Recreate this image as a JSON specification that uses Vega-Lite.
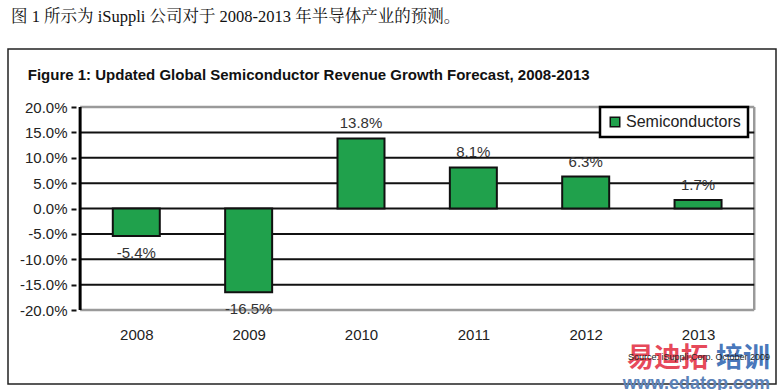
{
  "$schema": "https://vega.github.io/schema/vega-lite/v6.json",
  "width": 768,
  "height": 335,
  "autosize": {"type": "none"},
  "padding": {"left": 8, "top": 49, "right": 7, "bottom": 6},
  "background": "white",
  "config": {
    "view": {"stroke": "#222", "strokeWidth": 1.5},
    "font": "Liberation Sans",
    "legend": {"strokeColor": "#000", "strokeWidth": 2.5}
  },
  "datasets": {
    "bars": [
      {"year": 2008, "value": -5.4, "label": "-5.4%", "series": "Semiconductors"},
      {"year": 2009, "value": -16.5, "label": "-16.5%", "series": "Semiconductors"},
      {"year": 2010, "value": 13.8, "label": "13.8%", "series": "Semiconductors"},
      {"year": 2011, "value": 8.1, "label": "8.1%", "series": "Semiconductors"},
      {"year": 2012, "value": 6.3, "label": "6.3%", "series": "Semiconductors"},
      {"year": 2013, "value": 1.7, "label": "1.7%", "series": "Semiconductors"}
    ],
    "grid": [{"v": -15}, {"v": -10}, {"v": -5}, {"v": 0}, {"v": 5}, {"v": 10}, {"v": 15}],
    "frame": [{"v": -20}, {"v": 20}]
  },
  "layer": [
    {
      "data": {"name": "frame"},
      "mark": {"type": "rule", "color": "#9a9a9a", "strokeWidth": 2.5},
      "encoding": {
        "x": {"datum": 2007.5, "type": "quantitative", "scale": {"domain": [2006.9026, 2013.6493], "nice": false, "zero": false}},
        "x2": {"datum": 2013.5},
        "y": {"field": "v", "type": "quantitative", "scale": {"domain": [-34.58, 31.43], "nice": false, "zero": false}}
      }
    },
    {
      "data": {"values": [{}]},
      "mark": {"type": "rule", "color": "#9a9a9a", "strokeWidth": 2.5},
      "encoding": {
        "x": {"datum": 2013.5, "type": "quantitative"},
        "y": {"datum": -20, "type": "quantitative"},
        "y2": {"datum": 20}
      }
    },
    {
      "data": {"name": "grid"},
      "mark": {"type": "rule", "color": "#111", "strokeWidth": 2},
      "encoding": {
        "x": {"datum": 2007.5, "type": "quantitative"},
        "x2": {"datum": 2013.5},
        "y": {"field": "v", "type": "quantitative"}
      }
    },
    {
      "data": {"name": "bars"},
      "mark": {"type": "bar", "size": 47, "stroke": "#111", "strokeWidth": 2},
      "encoding": {
        "x": {
          "field": "year", "type": "quantitative",
          "axis": {
            "orient": "bottom", "offset": -57, "values": [2008, 2009, 2010, 2011, 2012, 2013],
            "format": "d", "domain": false, "ticks": false, "grid": false, "labelPadding": 0,
            "labelFontSize": 15, "labelColor": "#222", "labelBaseline": "top", "title": null
          }
        },
        "y": {
          "field": "value", "type": "quantitative",
          "axis": {
            "orient": "left", "offset": -68, "values": [-20, -15, -10, -5, 0, 5, 10, 15, 20],
            "labelExpr": "(datum.value < 0 ? '-' : '') + format(abs(datum.value), '.1f') + '%'",
            "domain": false, "ticks": true, "tickSize": 5, "tickWidth": 2, "tickColor": "#111",
            "grid": false, "labelPadding": 4, "labelFontSize": 15, "labelColor": "#222", "title": null
          }
        },
        "y2": {"datum": 0},
        "color": {
          "field": "series", "type": "nominal",
          "scale": {"range": ["#20a14c"]},
          "legend": {
            "orient": "none", "legendX": 592, "legendY": 58, "title": null,
            "symbolType": "square", "symbolSize": 90, "symbolStrokeColor": "#111", "symbolStrokeWidth": 1.5,
            "symbolFillColor": "#1c8a40",
            "labelFontSize": 16, "labelColor": "#222", "labelOffset": 3, "padding": 7,
            "strokeColor": "#000", "fillColor": "#fff"
          }
        }
      }
    },
    {
      "data": {"values": [{}]},
      "mark": {"type": "rule", "color": "#000", "strokeWidth": 3},
      "encoding": {
        "x": {"datum": 2007.5, "type": "quantitative"},
        "y": {"datum": -20, "type": "quantitative"},
        "y2": {"datum": 20}
      }
    },
    {
      "data": {"name": "bars"},
      "transform": [{"filter": "datum.value >= 0"}],
      "mark": {"type": "text", "baseline": "middle", "dy": -15, "fontSize": 15, "color": "#333"},
      "encoding": {
        "x": {"field": "year", "type": "quantitative"},
        "y": {"field": "value", "type": "quantitative"},
        "text": {"field": "label"}
      }
    },
    {
      "data": {"name": "bars"},
      "transform": [{"filter": "datum.value < 0"}],
      "mark": {"type": "text", "baseline": "middle", "dy": 17, "fontSize": 15, "color": "#333"},
      "encoding": {
        "x": {"field": "year", "type": "quantitative"},
        "y": {"field": "value", "type": "quantitative"},
        "text": {"field": "label"}
      }
    },
    {
      "data": {"values": [{"t": "Figure 1: Updated Global Semiconductor Revenue Growth Forecast, 2008-2013"}]},
      "mark": {"type": "text", "align": "left", "baseline": "middle", "fontSize": 15, "fontWeight": "bold", "color": "#111"},
      "encoding": {
        "x": {"datum": 2007.034, "type": "quantitative"},
        "y": {"datum": 26.31, "type": "quantitative"},
        "text": {"field": "t"}
      }
    },
    {
      "data": {"values": [{"t": "图 1 所示为 iSuppli 公司对于 2008-2013 年半导体产业的预测。"}]},
      "mark": {"type": "text", "align": "left", "baseline": "middle", "fontSize": 16.5, "font": "Liberation Serif, Noto Serif CJK SC, Noto Sans CJK SC", "color": "#111"},
      "encoding": {
        "x": {"datum": 2006.885, "type": "quantitative"},
        "y": {"datum": 37.73, "type": "quantitative"},
        "text": {"field": "t"}
      }
    },
    {
      "data": {"values": [{"t": "易迪拓"}]},
      "mark": {"type": "text", "align": "left", "baseline": "middle", "fontSize": 27, "fontWeight": "bold", "font": "Noto Sans CJK SC", "color": "#e6495a"},
      "encoding": {
        "x": {"datum": 2012.367, "type": "quantitative"},
        "y": {"datum": -29.7, "type": "quantitative"},
        "text": {"field": "t"}
      }
    },
    {
      "data": {"values": [{"t": "培训"}]},
      "mark": {"type": "text", "align": "right", "baseline": "middle", "fontSize": 27, "fontWeight": "bold", "font": "Noto Sans CJK SC", "color": "#4a78bb"},
      "encoding": {
        "x": {"datum": 2013.641, "type": "quantitative"},
        "y": {"datum": -29.7, "type": "quantitative"},
        "text": {"field": "t"}
      }
    },
    {
      "data": {"values": [{"t": "Source: iSuppli Corp. October 2009"}]},
      "mark": {"type": "text", "align": "right", "baseline": "middle", "fontSize": 9, "color": "#222"},
      "encoding": {
        "x": {"datum": 2013.641, "type": "quantitative"},
        "y": {"datum": -29.26, "type": "quantitative"},
        "text": {"field": "t"}
      }
    },
    {
      "data": {"values": [{"t": "www.edatop.com"}]},
      "mark": {"type": "text", "align": "right", "baseline": "middle", "fontSize": 18, "fontWeight": "bold", "color": "#5b82b8"},
      "encoding": {
        "x": {"datum": 2013.641, "type": "quantitative"},
        "y": {"datum": -34.6, "type": "quantitative"},
        "text": {"field": "t"}
      }
    }
  ]
}
